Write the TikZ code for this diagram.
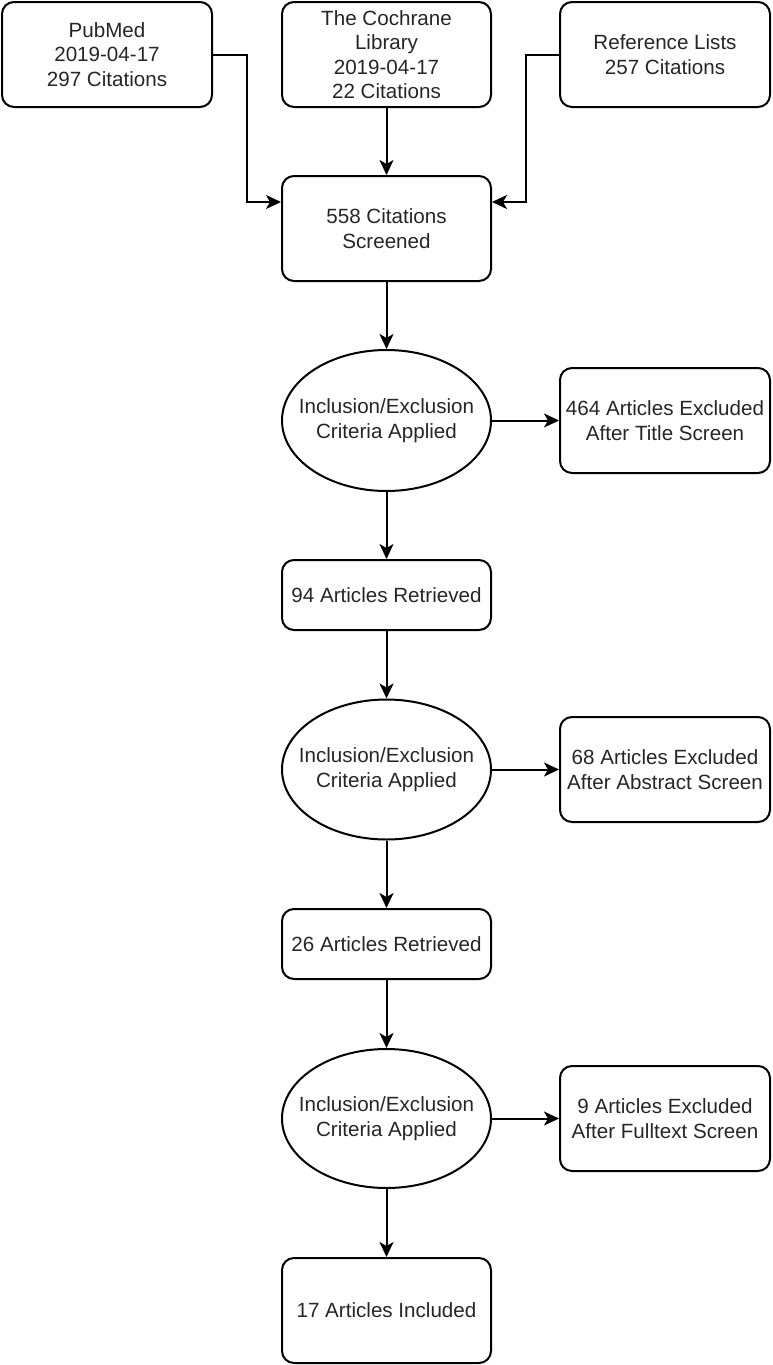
\documentclass[tikz,border=0pt]{standalone}
\usepackage{fontspec}
\setmainfont{Liberation Sans}
\usetikzlibrary{arrows.meta,shapes.geometric}
\tikzset{
  txt/.style={align=center, font=\fontsize{20.6}{24.5}\selectfont, text=black!85},
  box/.style={draw, line width=2pt, rounded corners=12pt, inner sep=0pt, txt},
  oval/.style={draw, ellipse, line width=2pt, inner sep=0pt,
    minimum width=209pt, minimum height=140pt},
  conn/.style={line width=2pt, -{Stealth[length=15pt,width=14pt,inset=4pt]}}
}
\begin{document}
\begin{tikzpicture}[x=1pt,y=-1pt]
\useasboundingbox (0,0) rectangle (772,1365);
\node[box, minimum width=210pt, minimum height=105pt] (pub) at (107,54.5) {PubMed\\2019-04-17\\297 Citations};
\node[box, minimum width=209pt, minimum height=105pt] (coch) at (386.5,54.5) {The Cochrane\\Library\\2019-04-17\\22 Citations};
\node[box, minimum width=210pt, minimum height=105pt] (ref) at (665,54.5) {Reference Lists\\257 Citations};
\node[box, minimum width=209pt, minimum height=105pt] (scr) at (386.5,228.5) {558 Citations\\Screened};
\node[oval, minimum height=141pt, label={[txt]center:Inclusion/Exclusion\\Criteria Applied}] (e1) at (386.5,420.5) {};
\node[box, minimum width=210pt, minimum height=105pt] (ex1) at (665,420.5) {464 Articles Excluded\\After Title Screen};
\node[box, minimum width=209pt, minimum height=70pt] (r94) at (386.5,595) {94 Articles Retrieved};
\node[oval, label={[txt]center:Inclusion/Exclusion\\Criteria Applied}] (e2) at (386.5,769.5) {};
\node[box, minimum width=210pt, minimum height=105pt] (ex2) at (665,769.5) {68 Articles Excluded\\After Abstract Screen};
\node[box, minimum width=209pt, minimum height=70pt] (r26) at (386.5,944) {26 Articles Retrieved};
\node[oval, minimum height=139pt, label={[txt]center:Inclusion/Exclusion\\Criteria Applied}] (e3) at (386.5,1118.5) {};
\node[box, minimum width=210pt, minimum height=105pt] (ex3) at (665,1118.5) {9 Articles Excluded\\After Fulltext Screen};
\node[box, minimum width=209pt, minimum height=105pt] (inc) at (386.5,1310.5) {17 Articles Included};

\coordinate (pubbend) at (247,54.5);
\coordinate (refbend) at (526,54.5);
\coordinate (scrin) at (0,202);
\draw[conn] (pub.east) -- (pubbend) |- (scr.west |- scrin);
\draw[conn] (ref.west) -- (refbend) |- (scr.east |- scrin);
\draw[conn] (coch) -- (scr);
\draw[conn] (scr) -- (e1);
\draw[conn] (e1.east) -- (ex1.west);
\draw[conn] (e1) -- (r94);
\draw[conn] (r94) -- (e2);
\draw[conn] (e2.east) -- (ex2.west);
\draw[conn] (e2) -- (r26);
\draw[conn] (r26) -- (e3);
\draw[conn] (e3.east) -- (ex3.west);
\draw[conn] (e3) -- (inc);
\end{tikzpicture}
\end{document}
